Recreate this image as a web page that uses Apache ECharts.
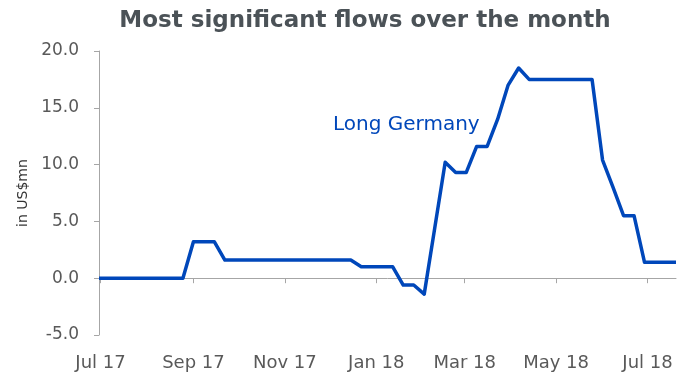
<!DOCTYPE html>
<html>
<head>
<meta charset="utf-8">
<title>Most significant flows over the month</title>
<script src="https://cdn.jsdelivr.net/npm/echarts@6/dist/echarts.min.js"></script>
<style>
  html, body { margin: 0; padding: 0; background: #ffffff; }
  #chart { width: 692px; height: 374px; }
</style>
</head>
<body>
<div id="chart"></div>
<script>
// Weekly (Friday) observations, starting 30 Jun 2017
const startDate = '2017-06-30';
const seriesName = 'Long Germany';
const flowValues = [
  0, 0, 0, 0, 0, 0, 0, 0, 0,
  3.2, 3.2, 3.2,
  1.6, 1.6, 1.6, 1.6, 1.6, 1.6, 1.6, 1.6, 1.6, 1.6, 1.6, 1.6, 1.6,
  1.0, 1.0, 1.0, 1.0,
  -0.6, -0.6, -1.4,
  4.4, 10.2, 9.3, 9.3, 11.6, 11.6, 14.0, 17.0, 18.5,
  17.5, 17.5, 17.5, 17.5, 17.5, 17.5, 17.5,
  10.4, 8.0, 5.5, 5.5,
  1.4, 1.4, 1.4, 1.4
];
// Month starts used as x-axis ticks and labels
const tickDates = ['2017-07-01', '2017-09-01', '2017-11-01', '2018-01-01', '2018-03-01', '2018-05-01', '2018-07-01'];
const tickLabels = ['Jul 17', 'Sep 17', 'Nov 17', 'Jan 18', 'Mar 18', 'May 18', 'Jul 18'];
const yTicks = [-5, 0, 5, 10, 15, 20];

const DAY = 24 * 3600 * 1000;
const t0 = Date.parse(startDate + 'T00:00:00Z');
const points = flowValues.map((v, k) => [t0 + k * 7 * DAY, v]);
const tickTimes = tickDates.map(d => Date.parse(d + 'T00:00:00Z'));
const xMin = points[0][0];
const xMax = points[points.length - 1][0];

const FONT = 'DejaVu Sans';
const AXIS_GREY = '#a6a6a6';
const LABEL_GREY = '#595959';
const BLUE = '#0047ba';

const chart = echarts.init(document.getElementById('chart'), null, { renderer: 'canvas' });

chart.setOption({
  animation: false,
  backgroundColor: '#ffffff',
  title: {
    text: 'Most significant flows over the month',
    left: 360,
    textAlign: 'center',
    top: 5,
    textStyle: { fontFamily: FONT, fontSize: 23, fontWeight: 'bold', color: '#4b5257' }
  },
  grid: { left: 99, right: 16, top: 51, bottom: 39, containLabel: false },
  xAxis: [
    {
      // date labels along the bottom edge
      type: 'value',
      min: xMin,
      max: xMax,
      position: 'bottom',
      axisLine: { show: false, onZero: false },
      axisTick: { show: false },
      splitLine: { show: false },
      axisLabel: {
        customValues: tickTimes,
        margin: 19,
        fontFamily: FONT,
        fontSize: 18,
        color: LABEL_GREY,
        showMinLabel: true,
        showMaxLabel: true,
        formatter: function (val) {
          const i = tickTimes.indexOf(val);
          return i >= 0 ? tickLabels[i] : '';
        }
      }
    },
    {
      // axis line and ticks sitting on zero
      type: 'value',
      min: xMin,
      max: xMax,
      position: 'bottom',
      axisLine: { show: true, onZero: true, lineStyle: { color: AXIS_GREY, width: 1 } },
      axisTick: { show: true, customValues: tickTimes, inside: false, length: 5, lineStyle: { color: AXIS_GREY } },
      axisLabel: { show: false },
      splitLine: { show: false }
    }
  ],
  yAxis: {
    type: 'value',
    min: yTicks[0],
    max: yTicks[yTicks.length - 1],
    interval: 5,
    name: 'in US$mn',
    nameLocation: 'middle',
    nameGap: 61,
    nameRotate: 90,
    nameTextStyle: { fontFamily: FONT, fontSize: 14, color: '#333333' },
    axisLine: { show: true, lineStyle: { color: AXIS_GREY, width: 1 } },
    axisTick: { show: true, inside: false, length: 5, lineStyle: { color: AXIS_GREY } },
    splitLine: { show: false },
    axisLabel: {
      margin: 20,
      fontFamily: FONT,
      fontSize: 17,
      color: LABEL_GREY,
      formatter: v => v.toFixed(1)
    }
  },
  graphic: [
    {
      type: 'text',
      left: 333,
      top: 115,
      z: 10,
      style: {
        text: seriesName,
        fontFamily: FONT,
        fontSize: 20,
        fill: BLUE
      }
    }
  ],
  series: [
    {
      name: seriesName,
      type: 'line',
      xAxisIndex: 0,
      data: points,
      showSymbol: false,
      symbol: 'none',
      lineStyle: { color: BLUE, width: 3.5, join: 'round' },
      clip: true
    }
  ]
});
</script>
</body>
</html>
